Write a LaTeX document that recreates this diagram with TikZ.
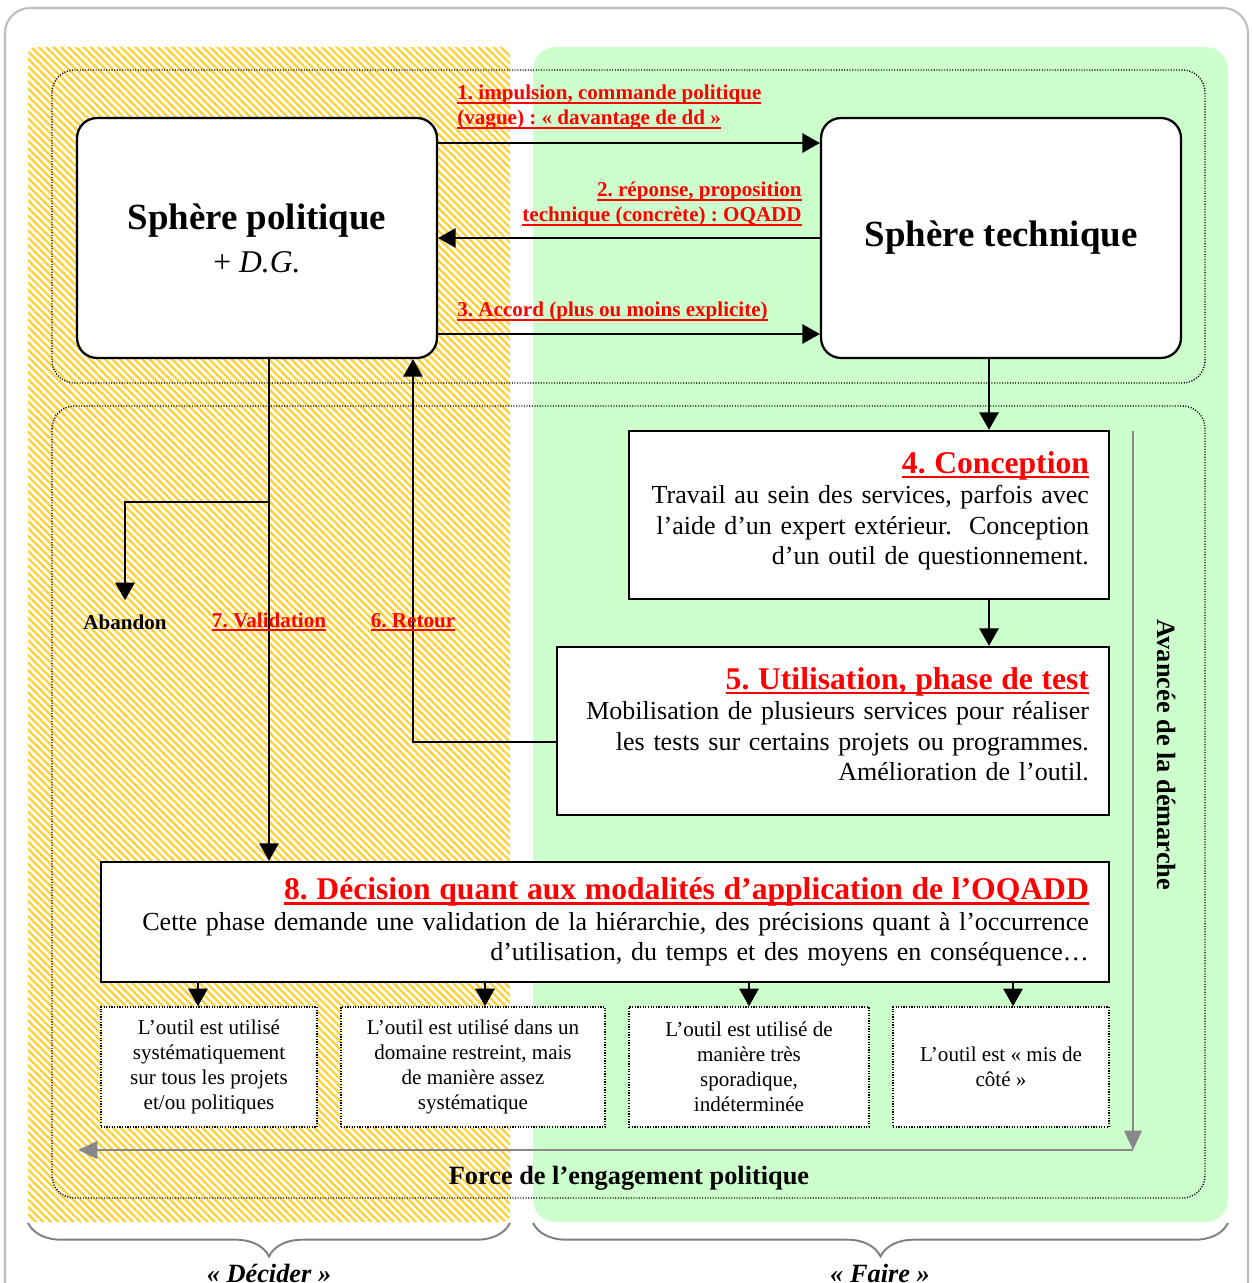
\documentclass[tikz,border=0pt]{standalone}
\usepackage{fontspec}
\setmainfont{Liberation Serif}
\usetikzlibrary{arrows.meta,patterns.meta,decorations.pathreplacing,calc}
\definecolor{hatchy}{RGB}{255,208,50}
\definecolor{greenbg}{RGB}{204,255,204}
\definecolor{redlab}{RGB}{255,0,0}
\definecolor{grayarr}{RGB}{136,136,136}
\definecolor{framegray}{RGB}{190,190,190}
\newcommand\szBig{\fontsize{21}{20}\selectfont}
\newcommand\szMid{\fontsize{18}{20}\selectfont}
\newcommand\szTitle{\fontsize{18}{21}\selectfont}
\newcommand\szBody{\fontsize{14.8}{17.4}\selectfont}
\newcommand\szLab{\fontsize{12}{14.2}\selectfont}
\newcommand\szSmall{\fontsize{12}{14.2}\selectfont}
\newcommand\redul[1]{\textcolor{redlab}{\setbox0\hbox{#1}\rlap{\rule[-0.17em]{\wd0}{0.09em}}\box0}}
\newcommand\lowstrut{\rule[-8pt]{0pt}{8pt}}
\frenchspacing
\begin{document}
\begin{tikzpicture}[x=0.02cm,y=-0.02cm,
  arr/.style={line width=1.1pt,-{Triangle[length=10pt,width=11pt]}},
  garr/.style={line width=1.2pt,draw=grayarr,color=grayarr,-{Triangle[length=11pt,width=10pt]}},
  sphere/.style={draw,line width=1.3pt,fill=white,rounded corners=0.4cm,minimum width=7.2cm,minimum height=4.8cm,align=center},
  phase/.style={draw,line width=1.3pt,fill=white,inner xsep=0.4cm,inner ysep=0pt,align=right,font=\szBody},
  outcome/.style={draw,dash pattern=on 0.7pt off 0.8pt,line width=0.9pt,fill=white,align=center,minimum height=2.4cm,inner sep=0pt,font=\szSmall},
  zone/.style={dash pattern=on 0.6pt off 0.9pt,line width=0.8pt,rounded corners=0.45cm},
  lab/.style={font=\szLab\bfseries,inner sep=0pt},
  brace/.style={decorate,decoration={brace,mirror,amplitude=19pt},draw=gray,line width=1.1pt}
]
\useasboundingbox (0,0) rectangle (1251,1283);
% frame
\draw[framegray,line width=1.2pt,rounded corners=0.5cm] (5,8) rectangle (1248,1330);
% zones
\fill[white] (28,47) rectangle (510,1222);
\fill[pattern={Lines[angle=-45,distance=3pt,line width=1.3pt]},pattern color=hatchy,rounded corners=0.15cm] (28,47) rectangle (510,1222);
\fill[greenbg,rounded corners=0.45cm] (533,47) rectangle (1228,1222);
\draw[zone] (52,70) rectangle (1205,383);
\draw[zone] (52,406) rectangle (1205,1198);
% spheres
\node[sphere] (pol) at (257,238) {{\szBig\bfseries Sphère politique}\\[7pt]{\szMid + \textit{D.G.}}};
\node[sphere] (tech) at (1001,238) {\szBig\bfseries Sphère technique};
% phases
\node[phase,text width=8.8cm,minimum height=3.36cm] (c4) at (869,515)
  {{\szTitle\bfseries\redul{4. Conception}}\\
   Travail au sein des services, parfois avec\\
   l’aide d’un expert extérieur.\ \ Conception\\
   d’un outil de questionnement.\lowstrut};
\node[phase,text width=10.24cm,minimum height=3.36cm] (u5) at (833,731)
  {{\szTitle\bfseries\redul{5. Utilisation, phase de test}}\\
   Mobilisation de plusieurs services pour réaliser\\
   les tests sur certains projets ou programmes.\\
   Amélioration de l’outil.\lowstrut};
\node[phase,text width=19.36cm,minimum height=2.4cm] (d8) at (605,922)
  {{\szTitle\bfseries\redul{8. Décision quant aux modalités d’application de l’OQADD}}\\
   Cette phase demande une validation de la hiérarchie, des précisions quant à l’occurrence\\
   d’utilisation, du temps et des moyens en conséquence…};
% outcomes
\node[outcome,minimum width=4.32cm] (oa) at (209,1067) {L’outil est utilisé\\systématiquement\\sur tous les projets\\et/ou politiques};
\node[outcome,minimum width=5.28cm] (ob) at (473,1067) {L’outil est utilisé dans un\\domaine restreint, mais\\de manière assez\\systématique};
\node[outcome,minimum width=4.8cm] (oc) at (749,1067) {L’outil est utilisé de\\manière très\\sporadique,\\indéterminée};
\node[outcome,minimum width=4.32cm] (od) at (1001,1067) {L’outil est «~mis de\\côté~»};
% top arrows
\draw[arr] (pol.east |- 0,143) -- (tech.west |- 0,143);
\draw[arr] (tech.west |- 0,238) -- (pol.east |- 0,238);
\draw[arr] (pol.east |- 0,334) -- (tech.west |- 0,334);
\node[lab,anchor=north west,align=left] (l1) at (457,85) {\redul{1. impulsion, commande politique}\\\redul{(vague) : «~davantage de dd~»}};
\node[lab,anchor=north east,align=right] (l2) at (802,182) {\redul{2. réponse, proposition}\\\redul{technique (concrète) : OQADD}};
\node[lab,anchor=north west,align=left] (l3) at (457,302) {\redul{3. Accord (plus ou moins explicite)}};
% flow
\draw[arr] (tech.south -| 989,0) -- (c4.north -| 989,0);
\draw[arr] (c4.south -| 989,0) -- (u5.north -| 989,0);
\draw[arr] (u5.west |- 0,742) -| (pol.south -| 413,0);
\draw[arr] (pol.south -| 269,0) -- (d8.north -| 269,0);
\coordinate (br) at (269,502);
\node[lab,inner ysep=8pt] (ab) at (125,622) {Abandon};
\draw[arr] (br) -| (ab.north);
\node[lab] (l7) at (269,622) {\redul{7. Validation}};
\node[lab] (l6) at (413,622) {\redul{6. Retour}};
\draw[arr] (d8.south -| 198,0) -- (oa.north -| 198,0);
\draw[arr] (d8.south -| 485,0) -- (ob.north -| 485,0);
\draw[arr] (d8.south -| 749,0) -- (oc.north -| 749,0);
\draw[arr] (d8.south -| 1013,0) -- (od.north -| 1013,0);
% gray axes
\coordinate (gtop) at (1133,431);
\coordinate (gbot) at (1133,1150);
\coordinate (gleft) at (78,1150);
\draw[garr] (gtop) -- (gbot);
\draw[garr] (gbot) -- (gleft);
\node[rotate=-90,font=\fontsize{15}{17}\selectfont\bfseries] (av) at (1167,755) {Avancée de la démarche};
\node[font=\fontsize{15}{17}\selectfont\bfseries] (fe) at (629,1178) {Force de l’engagement politique};
% braces
\coordinate (b1l) at (28,1223);
\coordinate (b1r) at (510,1223);
\coordinate (b2l) at (533,1223);
\coordinate (b2r) at (1228,1223);
\draw[brace] (b1l) -- (b1r);
\draw[brace] (b2l) -- (b2r);
\node[font=\fontsize{15}{17}\selectfont\bfseries\itshape] (dec) at (269,1273) {«~Décider~»};
\node[font=\fontsize{15}{17}\selectfont\bfseries\itshape] (fai) at (880,1273) {«~Faire~»};
\end{tikzpicture}
\end{document}
